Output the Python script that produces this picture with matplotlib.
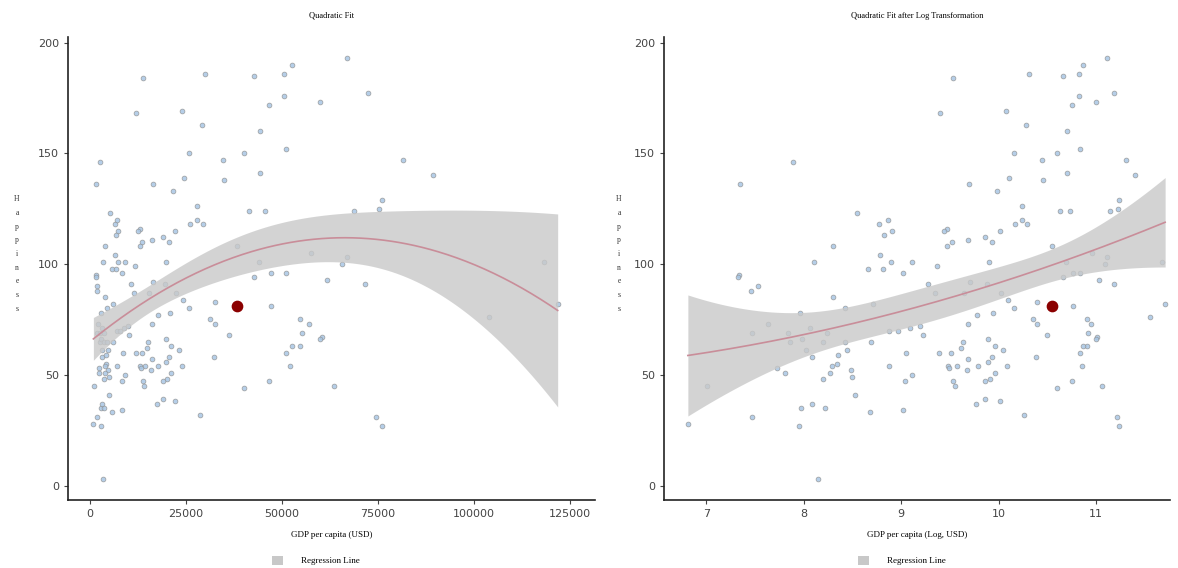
import numpy as np
import matplotlib
matplotlib.use("Agg")
import matplotlib.pyplot as plt
from matplotlib.patches import Patch

# ---------------- data ----------------
log_gdp_per_capita = [
    11.11, 10.87, 10.83, 10.66, 10.31, 9.53, 11.19, 11.00, 10.83, 10.75,
    9.40, 10.08, 10.28, 10.70, 10.16, 10.60, 10.84, 10.45, 11.31, 11.40,
    10.70, 10.46, 10.11, 9.70, 9.98, 10.24, 10.63, 10.73, 11.24, 11.14,
    11.23, 10.24, 10.17, 10.29, 10.01, 9.47, 9.44, 9.52, 9.47, 9.69,
    9.86, 9.93, 10.55, 9.90, 9.37, 11.68, 11.11, 11.09, 10.96, 10.69,
    7.89, 7.35, 8.55, 8.77, 8.86, 8.91, 8.82, 8.30, 8.78, 8.90, 9.11, 8.10, 8.66, 8.81,
    9.02, 9.28, 7.34, 7.32, 7.53, 7.46, 8.30, 8.71, 8.42, 7.96,
    7.63, 7.47, 7.84, 8.06, 8.24, 7.86, 7.98, 8.20, 8.42, 8.69,
    8.87, 8.97, 9.09, 9.19, 9.22, 8.02, 8.44, 8.08, 8.35, 8.34,
    8.29, 7.73, 7.81, 8.48, 8.27, 8.50, 8.20, 9.05, 8.87, 9.11,
    9.04, 8.53, 7.01, 7.97, 8.08, 8.22, 8.68, 9.02, 7.47, 6.81,
    7.95, 8.15,
    10.76, 10.84, 10.66, 11.03, 11.18, 9.71, 9.88, 9.64, 9.35, 10.02,
    10.10, 10.39, 10.76, 11.71, 9.94, 10.16, 9.78, 9.69, 10.35, 10.39,
    10.91, 10.95, 11.55, 10.50, 10.92, 11.01, 11.00, 9.63, 9.89, 10.91,
    10.87, 9.61, 9.96, 10.05, 9.39, 9.51, 10.84, 10.38, 9.69, 9.93,
    9.89, 9.48, 9.57, 9.79, 10.09, 10.86, 9.49, 9.68, 9.96, 9.91,
    9.86, 9.53, 9.55, 10.75, 10.60, 11.06, 9.86, 10.01, 9.77, 10.26,
    11.22, 11.24,
]
y_values = [
    193, 190, 186, 185, 186, 184, 177, 173, 176, 172,
    168, 169, 163, 160, 150, 150, 152, 147, 147, 140,
    141, 138, 139, 136, 133, 126, 124, 124, 129, 124,
    125, 120, 118, 118, 115, 116, 115, 110, 108, 111,
    112, 110, 108, 101, 99, 101, 103, 100, 105, 101,
    146, 136, 123, 118, 120, 115, 113, 108, 104, 101, 101, 101, 98, 98,
    96, 91, 95, 94, 90, 88, 85, 82, 80, 78,
    73, 69, 69, 71, 69, 65, 66, 65, 65, 65,
    70, 70, 71, 72, 68, 61, 61, 58, 59, 55,
    54, 53, 51, 52, 51, 49, 48, 60, 54, 50,
    47, 41, 45, 35, 37, 35, 33, 34, 31, 28,
    27, 3,
    96, 96, 94, 93, 91, 92, 91, 87, 87, 87,
    84, 83, 81, 82, 78, 80, 77, 73, 75, 73,
    75, 73, 76, 68, 69, 67, 66, 65, 66, 63,
    63, 62, 63, 61, 60, 60, 60, 58, 57, 58,
    56, 54, 54, 54, 54, 54, 53, 52, 51, 48,
    47, 47, 45, 47, 44, 45, 39, 38, 37, 32,
    31, 27,
]
highlight_log_gdp = 10.55
highlight_y = 81

titles = ["Quadratic Fit", "Quadratic Fit after Log Transformation"]
xlabels = ["GDP per capita (USD)", "GDP per capita (Log, USD)"]
ylabel = "Happiness"
legend_label = "Regression Line"
left_xticks = [0, 25000, 50000, 75000, 100000, 125000]
right_xticks = [7, 8, 9, 10, 11]
yticks = [0, 50, 100, 150, 200]

# ---------------- helpers ----------------
log_x = np.array(log_gdp_per_capita)
gdp_x = np.exp(log_x)
yv = np.array(y_values, dtype=float)


def quad_fit(x, y, grid, scale=1.0):
    xs = x / scale
    gs = grid / scale
    X = np.column_stack([np.ones_like(xs), xs, xs ** 2])
    beta, *_ = np.linalg.lstsq(X, y, rcond=None)
    resid = y - X @ beta
    n = len(y)
    s2 = resid @ resid / (n - 3)
    cov = s2 * np.linalg.inv(X.T @ X)
    G = np.column_stack([np.ones_like(gs), gs, gs ** 2])
    pred = G @ beta
    se = np.sqrt(np.einsum("ij,jk,ik->i", G, cov, G))
    t = 1.973
    return pred, pred - t * se, pred + t * se


serif = ["Liberation Serif", "DejaVu Serif"]
point_face = "#a8c6e4"
point_edge = "#8f8f8f"
band_color = "#c9c9c9"
line_color = "#c98d99"

fig = plt.figure(figsize=(11.78, 5.68), dpi=100)
ax1 = fig.add_axes([68 / 1178, 1 - 500 / 568, 527 / 1178, 463 / 568])
ax2 = fig.add_axes([664 / 1178, 1 - 500 / 568, 506 / 1178, 463 / 568])

panels = [
    (ax1, gdp_x, np.exp(highlight_log_gdp), 1e4, left_xticks, (-5700, 131500), 17),
    (ax2, log_x, highlight_log_gdp, 1.0, right_xticks, (6.565, 11.76), 619),
]

for i, (ax, x, hx, sc, xt, xl, ylab_px) in enumerate(panels):
    ax.scatter(x, yv, s=12, facecolor=point_face, edgecolor=point_edge,
               linewidth=0.5, alpha=0.85, zorder=2)
    grid = np.linspace(x.min(), x.max(), 300)
    pred, lo, hi = quad_fit(x, yv, grid, sc)
    ax.fill_between(grid, lo, hi, color=band_color, alpha=0.8, linewidth=0, zorder=3)
    ax.plot(grid, pred, color=line_color, lw=1.2, zorder=4)
    ax.scatter([hx], [highlight_y], s=55, color="#8b0000", zorder=5)

    ax.set_xlim(*xl)
    ax.set_ylim(-6.5, 202.5)
    ax.set_xticks(xt)
    ax.set_yticks(yticks)
    for s in ["top", "right"]:
        ax.spines[s].set_visible(False)
    for s in ["left", "bottom"]:
        ax.spines[s].set_linewidth(1.2)
        ax.spines[s].set_color("#222222")
    ax.tick_params(axis="both", labelsize=8, colors="#444444", length=3, width=0.8,
                   direction="out")
    ax.set_title(titles[i], fontsize=6, family=serif, pad=14)
    ax.set_xlabel(xlabels[i], fontsize=6.5, family=serif, labelpad=8.5)
    # vertical (stacked) axis label, as in the reference
    fig.text(ylab_px / 1178, 1 - 254 / 568, "\n".join(ylabel), fontsize=5.5,
             family=serif, ha="center", va="center", linespacing=1.95,
             color="#333333")
    ax.legend(handles=[Patch(facecolor="#c8c8c8", edgecolor="none", label=legend_label)],
              loc="upper center", bbox_to_anchor=(0.47, -0.103), frameon=False,
              prop={"family": serif, "size": 6.5}, handlelength=1.2,
              handleheight=1.2, handletextpad=2.0)

fig.savefig("out.png", dpi=100, facecolor="white")
